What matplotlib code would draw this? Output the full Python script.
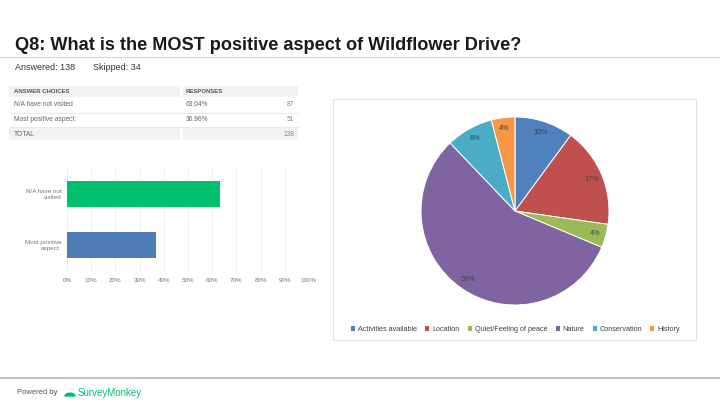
import matplotlib
matplotlib.use("Agg")
from matplotlib import pyplot as plt
from matplotlib import patches

plt.rcParams["font.family"] = ["Liberation Sans", "DejaVu Sans"]

W, H = 720, 405

titleText = "Q8: What is the MOST positive aspect of Wildflower Drive?"
answeredText = "Answered: 138"
skippedText = "Skipped: 34"

# summary table
tableChoices = ["N/A have not visited", "Most positive aspect:"]
tablePercents = ["63.04%", "36.96%"]
tableCounts = [87, 51]
tableTotal = 138

# bar chart
barLabels = ["N/A have not\nvisited", "Most positive\naspect:"]
barValues = [63.04, 36.96]
barColors = ["#00BF6F", "#507CB6"]
barTicks = [0, 10, 20, 30, 40, 50, 60, 70, 80, 90, 100]

# pie chart
pieLabels = ["Activities available", "Location", "Quiet/Feeling of peace",
             "Nature", "Conservation", "History"]
pieValues = [10, 17, 4, 56, 8, 4]
pieColors = ["#4F81BD", "#C0504D", "#9BBB59", "#8064A2", "#4BACC6", "#F79646"]


def box(x0, y0, x1, y1):
    # pixel box (top-left origin) -> figure fraction rect
    return [x0 / W, 1 - y1 / H, (x1 - x0) / W, (y1 - y0) / H]


def fx(x):
    return x / W


def fy(y):
    return 1 - y / H


fig = plt.figure(figsize=(7.2, 4.05), dpi=100)
fig.patch.set_facecolor("white")

# header
fig.text(fx(15), fy(45.5), titleText, fontsize=13.1, fontweight="bold",
         color="#1a1a1a", va="center", ha="left")
fig.add_artist(plt.Line2D([0, 1], [fy(57), fy(57)], color="#d6d6d6", lw=0.8))
fig.text(fx(15), fy(68), answeredText, fontsize=6.5, color="#333333", va="center")
fig.text(fx(93), fy(68), skippedText, fontsize=6.5, color="#333333", va="center")

# table
grey = "#f2f2f2"
fig.add_artist(patches.Rectangle((fx(9), fy(97)), fx(171), 11 / H,
                                 transform=fig.transFigure, color=grey, lw=0))
fig.add_artist(patches.Rectangle((fx(183), fy(97)), fx(115), 11 / H,
                                 transform=fig.transFigure, color=grey, lw=0))
fig.add_artist(patches.Rectangle((fx(9), fy(140)), fx(171), 12 / H,
                                 transform=fig.transFigure, color=grey, lw=0))
fig.add_artist(patches.Rectangle((fx(183), fy(140)), fx(115), 12 / H,
                                 transform=fig.transFigure, color=grey, lw=0))
fig.text(fx(14), fy(91.5), "ANSWER CHOICES", fontsize=4.3, fontweight="bold",
         color="#555555", va="center")
fig.text(fx(186), fy(91.5), "RESPONSES", fontsize=4.3, fontweight="bold",
         color="#555555", va="center")
rowY = [105, 119.5]
for i, y in enumerate(rowY):
    fig.text(fx(14), fy(y), tableChoices[i], fontsize=4.8, color="#666666", va="center")
    fig.text(fx(186), fy(y), tablePercents[i], fontsize=4.8, color="#666666", va="center")
    fig.text(fx(294), fy(y), str(tableCounts[i]), fontsize=4.8, color="#888888",
             va="center", ha="right")
    fig.add_artist(plt.Line2D([fx(9), fx(298)], [fy(y + 7.5), fy(y + 7.5)],
                              color="#e6e6e6", lw=0.6))
fig.text(fx(14), fy(134), "TOTAL", fontsize=4.8, color="#666666", va="center")
fig.text(fx(294), fy(134), str(tableTotal), fontsize=4.8, color="#888888",
         va="center", ha="right")

# bar chart
ax = fig.add_axes(box(67, 168, 309, 272))
ypos = [0, 1]
ax.barh(ypos, barValues, height=0.51, color=barColors, zorder=2)
ax.set_xlim(0, 100)
ax.set_ylim(1.53, -0.51)
ax.set_xticks(barTicks)
ax.set_xticklabels([f"{t}%" for t in barTicks], fontsize=4.5, color="#777777")
ax.set_yticks(ypos)
ax.set_yticklabels(barLabels, fontsize=4.5, color="#777777")
ax.tick_params(length=0, pad=4)
ax.grid(axis="x", color="#ececec", lw=0.6, zorder=0)
for s in ax.spines.values():
    s.set_visible(False)

# pie chart frame
fig.add_artist(patches.Rectangle((fx(333), fy(340)), fx(363), 241 / H,
                                 transform=fig.transFigure, fill=False,
                                 ec="#e2e2e2", lw=0.8))
pax = fig.add_axes(box(421, 117, 609, 305))
wedges, texts = pax.pie(pieValues, colors=pieColors, startangle=90,
                        counterclock=False, labels=[f"{v}%" for v in pieValues],
                        labeldistance=0.88,
                        wedgeprops=dict(edgecolor="white", linewidth=0.7),
                        textprops=dict(fontsize=5.2, color="#404040"))
for t in texts:
    t.set_ha("center")
    t.set_va("center")
pax.set_xlim(-1, 1)
pax.set_ylim(-1, 1)
pax.set_aspect("equal")

leg = fig.legend(wedges, pieLabels, loc="center", bbox_to_anchor=(fx(515), fy(329)),
                 ncol=6, frameon=False, fontsize=5.2, handlelength=0.7,
                 handleheight=0.7, handletextpad=0.4, columnspacing=1.0)
for txt in leg.get_texts():
    txt.set_color("#404040")

# footer
fig.add_artist(plt.Line2D([0, 1], [fy(378), fy(378)], color="#c4c4c4", lw=1.5))
fig.text(fx(17), fy(393), "Powered by", fontsize=5.5, color="#555555", va="center")
fig.add_artist(patches.Wedge((fx(70), fy(396)), 5 / W, 0, 180,
                             transform=fig.transFigure, color="#00BF6F"))
fig.text(fx(78), fy(393), "SurveyMonkey", fontsize=7, color="#00BF6F", va="center")

fig.savefig("out.png", dpi=100)
